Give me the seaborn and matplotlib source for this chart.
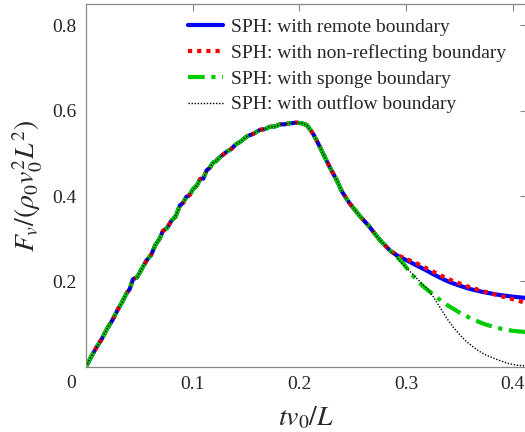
import matplotlib
matplotlib.use("Agg")
import matplotlib.pyplot as plt
import matplotlib.transforms as mtransforms
import numpy as np
import pandas as pd
import seaborn as sns

# shared early part (all four runs coincide)
common_t = [0.000, 0.005, 0.010, 0.015, 0.020, 0.025, 0.030, 0.034, 0.038, 0.041, 0.044,
            0.048, 0.052, 0.057, 0.061, 0.065, 0.069, 0.072, 0.076, 0.080, 0.084, 0.088,
            0.091, 0.094, 0.097, 0.100, 0.104, 0.107, 0.110, 0.113, 0.116, 0.119, 0.122,
            0.125, 0.128, 0.132, 0.136, 0.140, 0.145, 0.151, 0.157, 0.163, 0.168, 0.172,
            0.177, 0.182, 0.186, 0.190, 0.194, 0.197, 0.200, 0.203, 0.207, 0.210, 0.213,
            0.216, 0.219, 0.224, 0.229, 0.235, 0.240, 0.247, 0.257, 0.265, 0.275, 0.285]
common_f = [0.000, 0.024, 0.046, 0.066, 0.090, 0.110, 0.135, 0.152, 0.172, 0.182, 0.205,
            0.210, 0.228, 0.250, 0.262, 0.285, 0.300, 0.318, 0.325, 0.342, 0.352, 0.378,
            0.384, 0.398, 0.402, 0.415, 0.425, 0.440, 0.441, 0.460, 0.466, 0.478, 0.482,
            0.490, 0.496, 0.504, 0.510, 0.520, 0.528, 0.540, 0.546, 0.555, 0.557, 0.562,
            0.563, 0.568, 0.568, 0.570, 0.571, 0.572, 0.571, 0.570, 0.566, 0.556, 0.545,
            0.531, 0.516, 0.490, 0.465, 0.437, 0.410, 0.383, 0.352, 0.330, 0.298, 0.272]

# diverging tails
remote_t = [0.292, 0.300, 0.310, 0.318, 0.326, 0.334, 0.341, 0.350, 0.360, 0.372, 0.385, 0.400, 0.413]
remote_f = [0.260, 0.250, 0.237, 0.227, 0.216, 0.206, 0.198, 0.190, 0.182, 0.175, 0.169, 0.164, 0.161]

nonrefl_t = [0.292, 0.300, 0.310, 0.318, 0.326, 0.334, 0.341, 0.350, 0.360, 0.372, 0.385, 0.400, 0.413]
nonrefl_f = [0.261, 0.253, 0.242, 0.232, 0.222, 0.212, 0.204, 0.195, 0.186, 0.177, 0.168, 0.158, 0.149]

sponge_t = [0.292, 0.298, 0.304, 0.310, 0.316, 0.322, 0.330, 0.340, 0.350, 0.360, 0.372, 0.385, 0.400, 0.413]
sponge_f = [0.256, 0.240, 0.220, 0.203, 0.188, 0.176, 0.160, 0.142, 0.127, 0.114, 0.101, 0.091, 0.084, 0.081]

outflow_t = [0.292, 0.297, 0.304, 0.310, 0.316, 0.321, 0.326, 0.332, 0.338, 0.344, 0.350, 0.356,
             0.362, 0.368, 0.375, 0.385, 0.395, 0.405, 0.413]
outflow_f = [0.254, 0.240, 0.222, 0.207, 0.192, 0.180, 0.162, 0.138, 0.114, 0.093, 0.076, 0.060,
             0.048, 0.037, 0.027, 0.017, 0.008, 0.003, 0.002]

labels = ["SPH: with remote boundary", "SPH: with non-reflecting boundary",
          "SPH: with sponge boundary", "SPH: with outflow boundary"]
colors = ["#0000ff", "#ff0000", "#00cc00", "#000000"]

frames = []
for lab, tt, ff in zip(labels, [remote_t, nonrefl_t, sponge_t, outflow_t],
                       [remote_f, nonrefl_f, sponge_f, outflow_f]):
    frames.append(pd.DataFrame({"t": common_t + tt, "F": common_f + ff, "case": lab}))
df = pd.concat(frames, ignore_index=True)

sns.set_style("white")
plt.rcParams["font.family"] = ["Liberation Serif", "DejaVu Serif"]
plt.rcParams["mathtext.fontset"] = "stix"

fig = plt.figure(figsize=(5.25, 4.32), dpi=100)
ax = fig.add_axes([86 / 525, 65.3 / 432, 441 / 525, (366.7 - 4) / 432])

styles = [dict(lw=3.0, ls="-"),
          dict(lw=3.0, ls=(0, (1, 1.2))),
          dict(lw=3.0, ls=(0, (4, 1.6, 1, 1.6))),
          dict(lw=1.0, ls=(0, (1, 1.2)))]
for lab, col, st in zip(labels, colors, styles):
    sub = df[df["case"] == lab]
    sns.lineplot(data=sub, x="t", y="F", ax=ax, color=col, label=lab,
                 linewidth=st["lw"], linestyle=st["ls"], sort=False, estimator=None)

ax.set_xlim(0, 0.4133)
ax.set_ylim(0, 0.85)
ax.set_xticks([0.1, 0.2, 0.3, 0.4])
ax.set_xticklabels(["0.1", "0.2", "0.3", "0.4"])
ax.set_yticks([0.2, 0.4, 0.6, 0.8])
ax.set_yticklabels(["0.2", "0.4", "0.6", "0.8"])
ax.tick_params(direction="in", length=5, width=0.8, color="#888888",
               labelsize=14, top=True, right=True, pad=7)
for s in ax.spines.values():
    s.set_color("#888888")
    s.set_linewidth(0.9)

trans = mtransforms.blended_transform_factory(ax.transAxes, ax.transAxes)
ax.text(-15 / 441, -16.5 / 362.7, "0", transform=trans, ha="center", va="center", fontsize=14)

ax.set_xlabel(r"$tv_0/L$", fontsize=20, labelpad=8)
ax.set_ylabel(r"$F_v/(\rho_0 v_0^2 L^2)$", fontsize=20, labelpad=5)

leg = ax.legend(loc="upper right", bbox_to_anchor=(0.985, 1.0), frameon=False, fontsize=14,
                handlelength=1.8, handletextpad=0.4, labelspacing=0.41, borderaxespad=0.35)

fig.savefig("out.png", dpi=100)
